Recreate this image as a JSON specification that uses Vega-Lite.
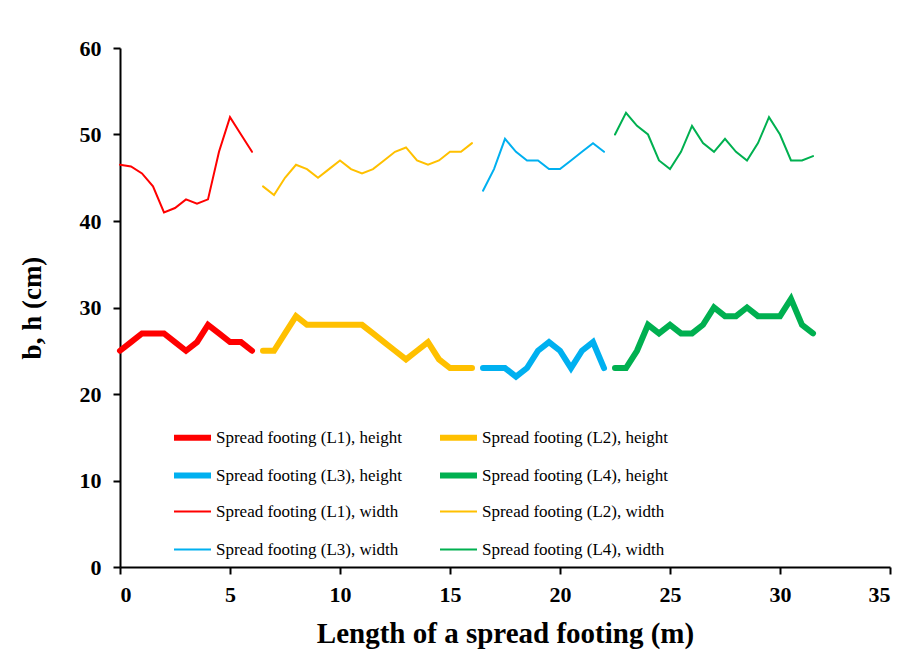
{
  "$schema": "https://vega.github.io/schema/vega-lite/v6.json",
  "width": 770,
  "height": 519,
  "autosize": {"type": "none"},
  "padding": {"left": 120, "top": 48, "right": 16, "bottom": 86},
  "background": "white",
  "config": {
    "view": {"stroke": null},
    "font": "Liberation Serif",
    "axis": {
      "grid": false,
      "domainColor": "black",
      "domainWidth": 2,
      "tickColor": "black",
      "tickWidth": 2,
      "tickSize": 7,
      "labelFont": "Liberation Serif",
      "labelFontWeight": "bold",
      "labelFontSize": 22,
      "labelColor": "black",
      "titleFont": "Liberation Serif",
      "titleFontWeight": "bold",
      "titleFontSize": 27,
      "titleColor": "black"
    }
  },
  "datasets": {
    "d": [
      {"s":"Spread footing (L1), height","x":0,"v":25},{"s":"Spread footing (L1), height","x":0.5,"v":26},{"s":"Spread footing (L1), height","x":1,"v":27},{"s":"Spread footing (L1), height","x":1.5,"v":27},{"s":"Spread footing (L1), height","x":2,"v":27},{"s":"Spread footing (L1), height","x":2.5,"v":26},{"s":"Spread footing (L1), height","x":3,"v":25},{"s":"Spread footing (L1), height","x":3.5,"v":26},{"s":"Spread footing (L1), height","x":4,"v":28},{"s":"Spread footing (L1), height","x":4.5,"v":27},{"s":"Spread footing (L1), height","x":5,"v":26},{"s":"Spread footing (L1), height","x":5.5,"v":26},{"s":"Spread footing (L1), height","x":6,"v":25},
      {"s":"Spread footing (L2), height","x":6.5,"v":25},{"s":"Spread footing (L2), height","x":7,"v":25},{"s":"Spread footing (L2), height","x":7.5,"v":27},{"s":"Spread footing (L2), height","x":8,"v":29},{"s":"Spread footing (L2), height","x":8.5,"v":28},{"s":"Spread footing (L2), height","x":9,"v":28},{"s":"Spread footing (L2), height","x":9.5,"v":28},{"s":"Spread footing (L2), height","x":10,"v":28},{"s":"Spread footing (L2), height","x":10.5,"v":28},{"s":"Spread footing (L2), height","x":11,"v":28},{"s":"Spread footing (L2), height","x":11.5,"v":27},{"s":"Spread footing (L2), height","x":12,"v":26},{"s":"Spread footing (L2), height","x":12.5,"v":25},{"s":"Spread footing (L2), height","x":13,"v":24},{"s":"Spread footing (L2), height","x":13.5,"v":25},{"s":"Spread footing (L2), height","x":14,"v":26},{"s":"Spread footing (L2), height","x":14.5,"v":24},{"s":"Spread footing (L2), height","x":15,"v":23},{"s":"Spread footing (L2), height","x":15.5,"v":23},{"s":"Spread footing (L2), height","x":16,"v":23},
      {"s":"Spread footing (L3), height","x":16.5,"v":23},{"s":"Spread footing (L3), height","x":17,"v":23},{"s":"Spread footing (L3), height","x":17.5,"v":23},{"s":"Spread footing (L3), height","x":18,"v":22},{"s":"Spread footing (L3), height","x":18.5,"v":23},{"s":"Spread footing (L3), height","x":19,"v":25},{"s":"Spread footing (L3), height","x":19.5,"v":26},{"s":"Spread footing (L3), height","x":20,"v":25},{"s":"Spread footing (L3), height","x":20.5,"v":23},{"s":"Spread footing (L3), height","x":21,"v":25},{"s":"Spread footing (L3), height","x":21.5,"v":26},{"s":"Spread footing (L3), height","x":22,"v":23},
      {"s":"Spread footing (L4), height","x":22.5,"v":23},{"s":"Spread footing (L4), height","x":23,"v":23},{"s":"Spread footing (L4), height","x":23.5,"v":25},{"s":"Spread footing (L4), height","x":24,"v":28},{"s":"Spread footing (L4), height","x":24.5,"v":27},{"s":"Spread footing (L4), height","x":25,"v":28},{"s":"Spread footing (L4), height","x":25.5,"v":27},{"s":"Spread footing (L4), height","x":26,"v":27},{"s":"Spread footing (L4), height","x":26.5,"v":28},{"s":"Spread footing (L4), height","x":27,"v":30},{"s":"Spread footing (L4), height","x":27.5,"v":29},{"s":"Spread footing (L4), height","x":28,"v":29},{"s":"Spread footing (L4), height","x":28.5,"v":30},{"s":"Spread footing (L4), height","x":29,"v":29},{"s":"Spread footing (L4), height","x":29.5,"v":29},{"s":"Spread footing (L4), height","x":30,"v":29},{"s":"Spread footing (L4), height","x":30.5,"v":31},{"s":"Spread footing (L4), height","x":31,"v":28},{"s":"Spread footing (L4), height","x":31.5,"v":27},
      {"s":"Spread footing (L1), width","x":0,"v":46.5},{"s":"Spread footing (L1), width","x":0.5,"v":46.3},{"s":"Spread footing (L1), width","x":1,"v":45.5},{"s":"Spread footing (L1), width","x":1.5,"v":44},{"s":"Spread footing (L1), width","x":2,"v":41},{"s":"Spread footing (L1), width","x":2.5,"v":41.5},{"s":"Spread footing (L1), width","x":3,"v":42.5},{"s":"Spread footing (L1), width","x":3.5,"v":42},{"s":"Spread footing (L1), width","x":4,"v":42.5},{"s":"Spread footing (L1), width","x":4.5,"v":48},{"s":"Spread footing (L1), width","x":5,"v":52},{"s":"Spread footing (L1), width","x":5.5,"v":50},{"s":"Spread footing (L1), width","x":6,"v":48},
      {"s":"Spread footing (L2), width","x":6.5,"v":44},{"s":"Spread footing (L2), width","x":7,"v":43},{"s":"Spread footing (L2), width","x":7.5,"v":45},{"s":"Spread footing (L2), width","x":8,"v":46.5},{"s":"Spread footing (L2), width","x":8.5,"v":46},{"s":"Spread footing (L2), width","x":9,"v":45},{"s":"Spread footing (L2), width","x":9.5,"v":46},{"s":"Spread footing (L2), width","x":10,"v":47},{"s":"Spread footing (L2), width","x":10.5,"v":46},{"s":"Spread footing (L2), width","x":11,"v":45.5},{"s":"Spread footing (L2), width","x":11.5,"v":46},{"s":"Spread footing (L2), width","x":12,"v":47},{"s":"Spread footing (L2), width","x":12.5,"v":48},{"s":"Spread footing (L2), width","x":13,"v":48.5},{"s":"Spread footing (L2), width","x":13.5,"v":47},{"s":"Spread footing (L2), width","x":14,"v":46.5},{"s":"Spread footing (L2), width","x":14.5,"v":47},{"s":"Spread footing (L2), width","x":15,"v":48},{"s":"Spread footing (L2), width","x":15.5,"v":48},{"s":"Spread footing (L2), width","x":16,"v":49},
      {"s":"Spread footing (L3), width","x":16.5,"v":43.5},{"s":"Spread footing (L3), width","x":17,"v":46},{"s":"Spread footing (L3), width","x":17.5,"v":49.5},{"s":"Spread footing (L3), width","x":18,"v":48},{"s":"Spread footing (L3), width","x":18.5,"v":47},{"s":"Spread footing (L3), width","x":19,"v":47},{"s":"Spread footing (L3), width","x":19.5,"v":46},{"s":"Spread footing (L3), width","x":20,"v":46},{"s":"Spread footing (L3), width","x":20.5,"v":47},{"s":"Spread footing (L3), width","x":21,"v":48},{"s":"Spread footing (L3), width","x":21.5,"v":49},{"s":"Spread footing (L3), width","x":22,"v":48},
      {"s":"Spread footing (L4), width","x":22.5,"v":50},{"s":"Spread footing (L4), width","x":23,"v":52.5},{"s":"Spread footing (L4), width","x":23.5,"v":51},{"s":"Spread footing (L4), width","x":24,"v":50},{"s":"Spread footing (L4), width","x":24.5,"v":47},{"s":"Spread footing (L4), width","x":25,"v":46},{"s":"Spread footing (L4), width","x":25.5,"v":48},{"s":"Spread footing (L4), width","x":26,"v":51},{"s":"Spread footing (L4), width","x":26.5,"v":49},{"s":"Spread footing (L4), width","x":27,"v":48},{"s":"Spread footing (L4), width","x":27.5,"v":49.5},{"s":"Spread footing (L4), width","x":28,"v":48},{"s":"Spread footing (L4), width","x":28.5,"v":47},{"s":"Spread footing (L4), width","x":29,"v":49},{"s":"Spread footing (L4), width","x":29.5,"v":52},{"s":"Spread footing (L4), width","x":30,"v":50},{"s":"Spread footing (L4), width","x":30.5,"v":47},{"s":"Spread footing (L4), width","x":31,"v":47},{"s":"Spread footing (L4), width","x":31.5,"v":47.5}
    ]
  },
  "layer": [
    {
      "data": {"name": "d"},
      "mark": {"type": "line", "strokeCap": "round", "strokeJoin": "miter"},
      "encoding": {
        "x": {
          "field": "x", "type": "quantitative",
          "scale": {"domain": [0, 35], "nice": false, "zero": true},
          "axis": {"values": [0, 5, 10, 15, 20, 25, 30, 35], "title": "Length of a spread footing (m)", "labelPadding": 10, "titlePadding": 14, "titleFontSize": 29}
        },
        "y": {
          "field": "v", "type": "quantitative",
          "scale": {"domain": [0, 60], "nice": false},
          "axis": {"values": [0, 10, 20, 30, 40, 50, 60], "title": "b, h (cm)", "labelPadding": 12, "titlePadding": 33}
        },
        "color": {
          "field": "s", "type": "ordinal",
          "scale": {
            "domain": ["Spread footing (L1), height", "Spread footing (L2), height", "Spread footing (L3), height", "Spread footing (L4), height", "Spread footing (L1), width", "Spread footing (L2), width", "Spread footing (L3), width", "Spread footing (L4), width"],
            "range": ["#FF0000", "#FFC000", "#00B0F0", "#00B050", "#FF0000", "#FFC000", "#00B0F0", "#00B050"]
          },
          "legend": {
            "title": null,
            "orient": "none",
            "legendX": 51,
            "legendY": 368,
            "direction": "horizontal",
            "columns": 2,
            "gridAlign": "all",
            "columnPadding": 25,
            "rowPadding": 4,
            "padding": 0,
            "symbolType": "stroke",
            "symbolSize": 1369,
            "labelFont": "Liberation Serif",
            "labelFontSize": 17,
            "labelColor": "black",
            "labelOffset": 2,
            "labelLimit": 300
          }
        },
        "strokeWidth": {
          "field": "s", "type": "ordinal",
          "scale": {
            "type": "ordinal",
            "domain": ["Spread footing (L1), height", "Spread footing (L2), height", "Spread footing (L3), height", "Spread footing (L4), height", "Spread footing (L1), width", "Spread footing (L2), width", "Spread footing (L3), width", "Spread footing (L4), width"],
            "range": [6, 6, 6, 6, 2, 2, 2, 2]
          },
          "legend": {
            "title": null,
            "orient": "none",
            "legendX": 51,
            "legendY": 368,
            "direction": "horizontal",
            "columns": 2,
            "gridAlign": "all",
            "columnPadding": 25,
            "rowPadding": 4,
            "padding": 0,
            "symbolType": "stroke",
            "symbolSize": 1369,
            "labelFont": "Liberation Serif",
            "labelFontSize": 17,
            "labelColor": "black",
            "labelOffset": 2,
            "labelLimit": 300
          }
        },
        "order": {"field": "x", "type": "quantitative"}
      }
    },
    {
      "mark": {"type": "text", "font": "Liberation Serif", "fontWeight": "bold", "fontSize": 23, "color": "black", "align": "center", "baseline": "middle"},
      "encoding": {
        "x": {"datum": 16.2, "type": "quantitative"},
        "y": {"datum": 55.6, "type": "quantitative"},
        "text": {"value": "Width (b)"}
      }
    },
    {
      "mark": {"type": "text", "font": "Liberation Serif", "fontWeight": "bold", "fontSize": 23, "color": "black", "align": "center", "baseline": "middle"},
      "encoding": {
        "x": {"datum": 15.9, "type": "quantitative"},
        "y": {"datum": 29.6, "type": "quantitative"},
        "text": {"value": "Height (h)"}
      }
    }
  ]
}
